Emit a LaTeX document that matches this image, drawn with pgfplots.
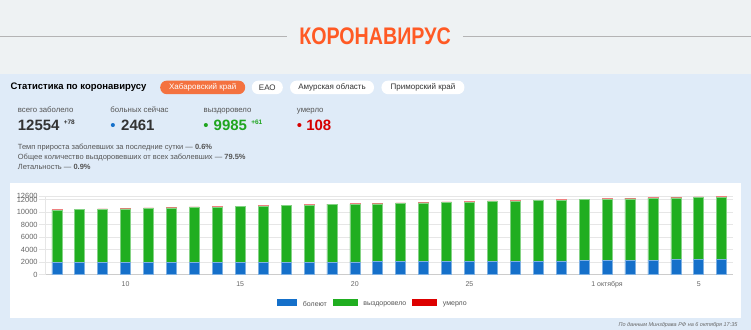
\documentclass[border=0pt]{standalone}
\usepackage{fontspec}
\setmainfont{Liberation Sans}
\usepackage{pgfplots}
\usepackage{pgfplotstable}
\usepackage{graphicx}
\pgfplotsset{compat=1.18}
\definecolor{topbg}{HTML}{EEF2F3}
\definecolor{bluebg}{HTML}{DFEBF8}
\definecolor{titlec}{HTML}{FF5A24}
\definecolor{linec}{HTML}{B4B4B4}
\definecolor{btnor}{HTML}{F47240}
\definecolor{darkt}{HTML}{333333}
\definecolor{labt}{HTML}{555555}
\definecolor{barblue}{HTML}{1570CA}
\definecolor{bargreen}{HTML}{20AE20}
\definecolor{barred}{HTML}{DD0000}
\definecolor{numgreen}{HTML}{1FA51F}
\definecolor{numred}{HTML}{D60000}
\definecolor{gridc}{HTML}{E6E6E6}
\definecolor{axisc}{HTML}{CCCCCC}
\definecolor{tickc}{HTML}{666666}

\pgfplotstableread{
i blue rec dead
0 2010 8318 72
1 2000 8402 73
2 2020 8455 74
3 1995 8552 76
4 1980 8640 77
5 1960 8734 78
6 1975 8792 79
7 1990 8849 81
8 1985 8927 82
9 1990 8996 83
10 1985 9074 84
11 1990 9141 86
12 2010 9194 87
13 2060 9218 88
14 2090 9261 89
15 2100 9323 91
16 2110 9386 92
17 2120 9450 93
18 2100 9543 94
19 2130 9585 96
20 2150 9638 97
21 2170 9692 98
22 2210 9725 99
23 2230 9777 101
24 2260 9820 102
25 2290 9864 103
26 2330 9897 104
27 2390 9909 106
28 2445 9924 107
29 2461 9985 108
}\covid

\begin{document}
\begin{tikzpicture}
% backgrounds
\fill[topbg] (0pt,0pt) rectangle (751pt,-74pt);
\fill[bluebg] (0pt,-74pt) rectangle (751pt,-330pt);
\fill[white] (10pt,-183pt) rectangle (741pt,-318pt);
% title
\draw[linec, line width=0.8pt] (0pt,-36pt) -- (287pt,-36pt);
\draw[linec, line width=0.8pt] (463pt,-36pt) -- (751pt,-36pt);
\node[text=titlec, inner sep=0pt] at (375pt,-36pt) {\fontsize{24}{24}\selectfont\bfseries\scalebox{0.82}[1]{КОРОНАВИРУС}};
% header row
\node[anchor=west, inner sep=0pt, text=black] at (10pt,-87.5pt) {\fontsize{9.5}{10}\selectfont\bfseries Статистика по коронавирусу};
\node[fill=btnor, text=white, rounded corners=6.5pt, minimum width=85pt, minimum height=13.5pt, inner sep=0pt] at (202.5pt,-87.5pt) {\fontsize{8}{9}\selectfont Хабаровский край};
\node[fill=white, text=darkt, rounded corners=6.5pt, minimum width=31pt, minimum height=13.5pt, inner sep=0pt] at (267.2pt,-87.5pt) {\fontsize{8}{9}\selectfont ЕАО};
\node[fill=white, text=darkt, rounded corners=6.5pt, minimum width=84pt, minimum height=13.5pt, inner sep=0pt] at (332pt,-87.5pt) {\fontsize{8}{9}\selectfont Амурская область};
\node[fill=white, text=darkt, rounded corners=6.5pt, minimum width=83pt, minimum height=13.5pt, inner sep=0pt] at (423pt,-87.5pt) {\fontsize{8}{9}\selectfont Приморский край};
% stats labels
\begin{scope}[every node/.style={anchor=base west, inner sep=0pt}]
\node[text=labt] at (17.3pt,-113pt) {\fontsize{7.8}{8}\selectfont всего заболело};
\node[text=labt] at (110pt,-113pt) {\fontsize{7.8}{8}\selectfont больных сейчас};
\node[text=labt] at (203.3pt,-113pt) {\fontsize{7.8}{8}\selectfont выздоровело};
\node[text=labt] at (296.7pt,-113pt) {\fontsize{7.8}{8}\selectfont умерло};
\node[text=darkt] at (17.3pt,-131pt) {\fontsize{15}{16}\selectfont\bfseries 12554};
\node[text=darkt] at (63.3pt,-125pt) {\fontsize{6.5}{7}\selectfont\bfseries +78};
\node[text=barblue] at (110pt,-131pt) {\fontsize{15}{16}\selectfont\textbullet};
\node[text=darkt] at (120.7pt,-131pt) {\fontsize{15}{16}\selectfont\bfseries 2461};
\node[text=numgreen] at (203pt,-131pt) {\fontsize{15}{16}\selectfont\textbullet};
\node[text=numgreen] at (213.3pt,-131pt) {\fontsize{15}{16}\selectfont\bfseries 9985};
\node[text=numgreen] at (251pt,-125pt) {\fontsize{6.5}{7}\selectfont\bfseries +61};
\node[text=numred] at (296.5pt,-131pt) {\fontsize{15}{16}\selectfont\textbullet};
\node[text=numred] at (306pt,-131pt) {\fontsize{15}{16}\selectfont\bfseries 108};
\node[text=labt] at (17.3pt,-150pt) {\fontsize{7.5}{8}\selectfont Темп прироста заболевших за последние сутки — \textbf{0.6\%}};
\node[text=labt] at (17.3pt,-159.5pt) {\fontsize{7.5}{8}\selectfont Общее количество выздоровевших от всех заболевших — \textbf{79.5\%}};
\node[text=labt] at (17.3pt,-169.5pt) {\fontsize{7.5}{8}\selectfont Летальность — \textbf{0.9\%}};
\end{scope}
\node[anchor=base east, inner sep=0pt, text=tickc] at (738pt,-327pt) {\fontsize{5.5}{6}\selectfont\itshape По данным Минздрава РФ на 6 октября 17:35};
% chart
\begin{axis}[
  at={(45pt,-275pt)}, anchor=south west, scale only axis,
  width=688.5pt, height=78.75pt,
  xmin=-0.5, xmax=29.5, ymin=0, ymax=12600,
  ybar stacked, bar width=10pt,
  ytick={0,2000,4000,6000,8000,10000,12000,12600},
  xtick={3,8,13,18,24,28},
  xticklabels={10,15,20,25,1 октября,5},
  /pgf/number format/assume math mode=true,
  /pgf/number format/1000 sep={},
  scaled y ticks=false,
  ymajorgrids, grid style={draw=gridc, line width=0.6pt},
  axis x line*=bottom, axis y line*=left,
  x axis line style={draw=axisc, line width=0.8pt, -},
  y axis line style={draw=gridc, line width=0.6pt, -},
  xtick style={draw=none},
  ytick style={draw=gridc, line width=0.6pt},
  major tick length=6.5pt, tick align=outside,
  yticklabel style={font=\fontsize{7.5}{8}\selectfont, text=tickc, inner sep=1pt},
  xticklabel style={font=\fontsize{7}{8}\selectfont, text=tickc, yshift=3pt},
  legend columns=3,
  legend style={at={(0.3363,-0.368)}, anchor=west, draw=none, fill=none, inner sep=0pt,
    font=\fontsize{7}{8}\selectfont, text=labt,
    nodes={inner sep=0pt},
    /tikz/every odd column/.append style={column sep=6pt},
    /tikz/every even column/.append style={column sep=6pt}},
]
\addplot[fill=barblue, draw=barblue!55!white, line width=0.6pt,
  legend image code/.code={\fill[barblue] (0pt,-0.6pt) rectangle (19.5pt,5pt);}]
  table[x=i, y=blue] {\covid};
\addlegendentry{болеют}
\addplot[fill=bargreen, draw=bargreen!55!white, line width=0.6pt,
  legend image code/.code={\fill[bargreen] (0pt,-0.6pt) rectangle (24pt,5pt);}]
  table[x=i, y=rec] {\covid};
\addlegendentry{выздоровело}
\addplot[fill=barred, draw=barred!50!white, line width=0.6pt,
  legend image code/.code={\fill[barred] (0pt,-0.6pt) rectangle (24pt,5pt);}]
  table[x=i, y=dead] {\covid};
\addlegendentry{умерло}
\end{axis}
\end{tikzpicture}
\end{document}
